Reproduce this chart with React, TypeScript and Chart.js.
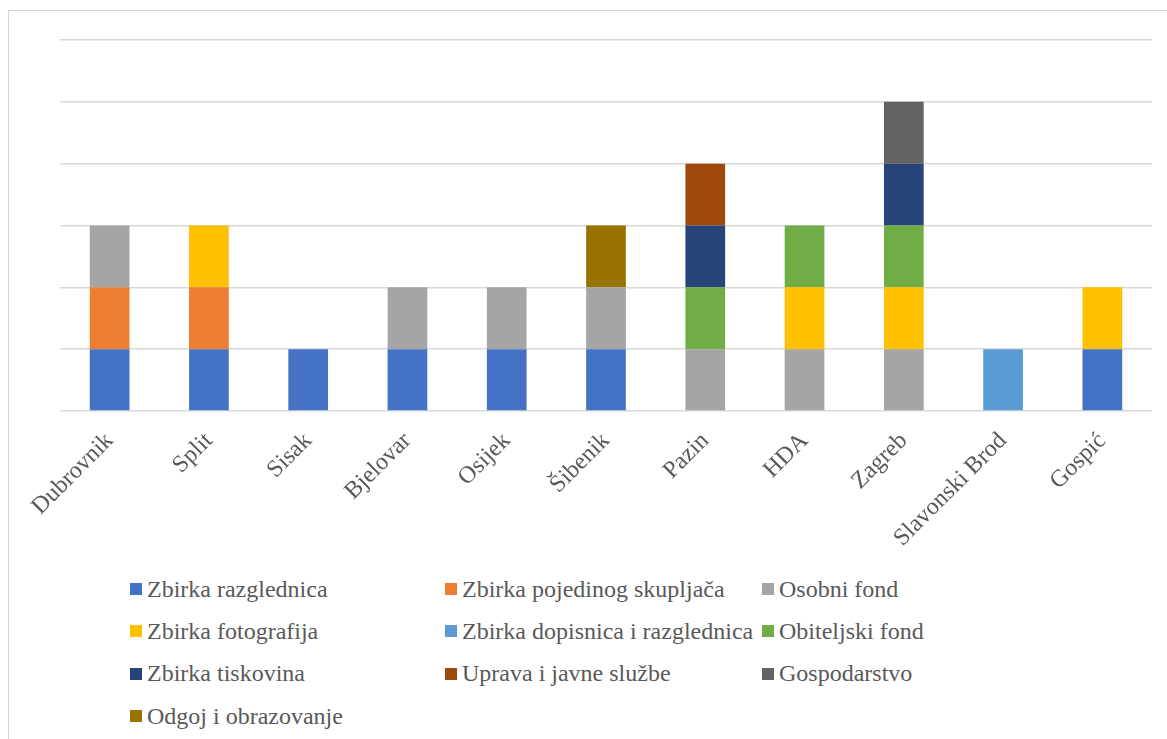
import React, { useEffect, useRef } from "react";
import { Chart, registerables } from "chart.js";

Chart.register(...registerables);

const categories = [
  "Dubrovnik",
  "Split",
  "Sisak",
  "Bjelovar",
  "Osijek",
  "Šibenik",
  "Pazin",
  "HDA",
  "Zagreb",
  "Slavonski Brod",
  "Gospić",
];

const zbirkaRazglednica = [1, 1, 1, 1, 1, 1, 0, 0, 0, 0, 1];
const zbirkaPojedinogSkupljaca = [1, 1, 0, 0, 0, 0, 0, 0, 0, 0, 0];
const osobniFond = [1, 0, 0, 1, 1, 1, 1, 1, 1, 0, 0];
const zbirkaFotografija = [0, 1, 0, 0, 0, 0, 0, 1, 1, 0, 1];
const zbirkaDopisnica = [0, 0, 0, 0, 0, 0, 0, 0, 0, 1, 0];
const obiteljskiFond = [0, 0, 0, 0, 0, 0, 1, 1, 1, 0, 0];
const zbirkaTiskovina = [0, 0, 0, 0, 0, 0, 1, 0, 1, 0, 0];
const upravaJavneSluzbe = [0, 0, 0, 0, 0, 0, 1, 0, 0, 0, 0];
const gospodarstvo = [0, 0, 0, 0, 0, 0, 0, 0, 1, 0, 0];
const odgojObrazovanje = [0, 0, 0, 0, 0, 1, 0, 0, 0, 0, 0];

const seriesNames = [
  "Zbirka razglednica",
  "Zbirka pojedinog skupljača",
  "Osobni fond",
  "Zbirka fotografija",
  "Zbirka dopisnica i razglednica",
  "Obiteljski fond",
  "Zbirka tiskovina",
  "Uprava i javne službe",
  "Gospodarstvo",
  "Odgoj i obrazovanje",
];

const seriesValues = [
  zbirkaRazglednica,
  zbirkaPojedinogSkupljaca,
  osobniFond,
  zbirkaFotografija,
  zbirkaDopisnica,
  obiteljskiFond,
  zbirkaTiskovina,
  upravaJavneSluzbe,
  gospodarstvo,
  odgojObrazovanje,
];

const seriesColors = [
  "#4472C4",
  "#ED7D31",
  "#A5A5A5",
  "#FFC000",
  "#5B9BD5",
  "#70AD47",
  "#264478",
  "#9E480E",
  "#636363",
  "#997300",
];

const yMax = 6;
const yStep = 1;

const FONT = "'Liberation Serif', 'Times New Roman', serif";
const TEXT_COLOR = "#595959";

export default function App() {
  const canvasRef = useRef<HTMLCanvasElement | null>(null);

  useEffect(() => {
    if (!canvasRef.current) return;
    const chart = new Chart(canvasRef.current, {
      type: "bar",
      data: {
        labels: categories,
        datasets: seriesNames.map((name, i) => ({
          label: name,
          data: seriesValues[i],
          backgroundColor: seriesColors[i],
          borderWidth: 0,
          barPercentage: 0.4,
          categoryPercentage: 1,
        })),
      },
      options: {
        animation: false,
        responsive: true,
        maintainAspectRatio: false,
        layout: { padding: { left: 51, right: 15, top: 29, bottom: 0 } },
        plugins: {
          legend: { display: false },
          tooltip: { enabled: false },
        },
        scales: {
          x: {
            stacked: true,
            grid: { display: false, drawTicks: false },
            border: { display: false },
            ticks: {
              autoSkip: false,
              minRotation: 45,
              maxRotation: 45,
              padding: 16,
              color: TEXT_COLOR,
              font: { family: FONT, size: 24 },
            },
            afterFit: (scale: any) => {
              scale.height = 140;
            },
          },
          y: {
            stacked: true,
            min: 0,
            max: yMax,
            ticks: { display: false, stepSize: yStep },
            grid: { color: "#D9D9D9", lineWidth: 1.5, drawTicks: false },
            border: { display: false },
          },
        },
      },
    });
    return () => chart.destroy();
  }, []);

  return (
    <div
      style={{
        position: "fixed",
        left: 0,
        top: 0,
        width: 1167,
        height: 739,
        overflow: "hidden",
        background: "#fff",
      }}
    >
      <div
        style={{
          position: "absolute",
          left: 8,
          top: 10,
          width: 1200,
          height: 800,
          border: "1px solid #D4D4D4",
          boxSizing: "border-box",
        }}
      />
      <div
        style={{
          position: "absolute",
          left: 9,
          top: 11,
          width: 1158,
          height: 540,
        }}
      >
        <canvas ref={canvasRef} />
      </div>
      <div
        style={{
          position: "absolute",
          left: 130,
          top: 568,
          display: "grid",
          gridTemplateColumns: "315px 317px 320px",
          gridAutoRows: "42.3px",
          fontFamily: FONT,
          fontSize: 24,
          color: TEXT_COLOR,
        }}
      >
        {seriesNames.map((name, i) => (
          <div
            key={name}
            style={{ display: "flex", alignItems: "center", whiteSpace: "nowrap" }}
          >
            <span
              style={{
                display: "inline-block",
                width: 12,
                height: 12,
                background: seriesColors[i],
                marginRight: 5,
                flex: "0 0 auto",
              }}
            />
            <span>{name}</span>
          </div>
        ))}
      </div>
    </div>
  );
}
